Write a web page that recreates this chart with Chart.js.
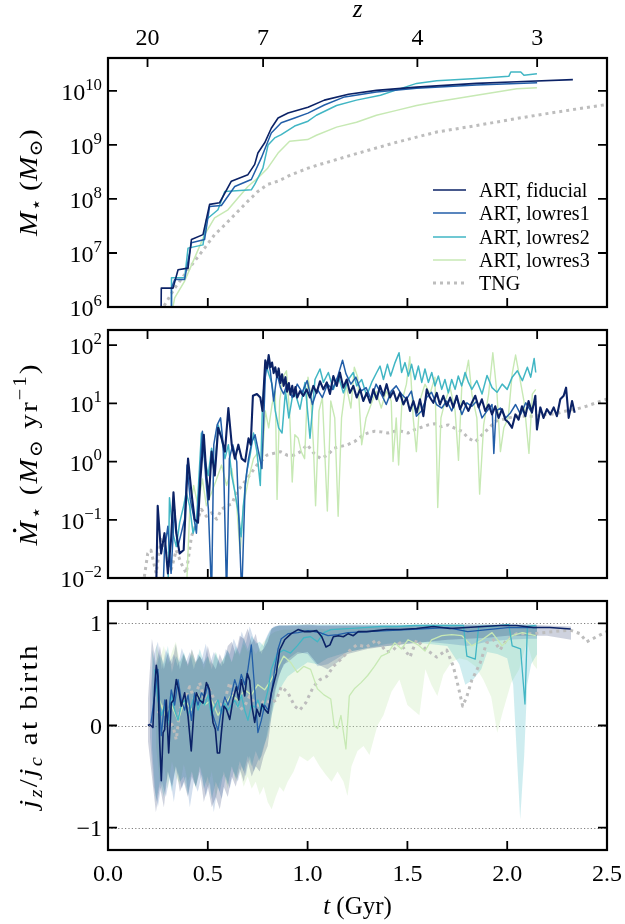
<!DOCTYPE html>
<html>
<head>
<meta charset="utf-8">
<title>Stellar mass, SFR and jz/jc at birth</title>
<script src="https://cdn.jsdelivr.net/npm/chart.js@4.4.1/dist/chart.umd.min.js"></script>
<style>
  html, body { margin: 0; padding: 0; background: #fff; }
  #figure { position: relative; width: 625px; height: 924px; }
  #figure canvas { position: absolute; left: 0; top: 0; }
</style>
</head>
<body>
<div id="figure">
  <canvas id="massChart" width="625" height="924"></canvas>
  <canvas id="sfrChart" width="625" height="924"></canvas>
  <canvas id="jzChart" width="625" height="924"></canvas>
</div>
<script>
const FONT = '"Liberation Serif", "DejaVu Serif", serif';

// shared time axis (Gyr) and redshift ticks on top
const xTickValues = [0, 0.5, 1, 1.5, 2, 2.5];
const xTickLabels = ["0.0", "0.5", "1.0", "1.5", "2.0", "2.5"];
const zTickLabels = ["20", "7", "4", "3"];
const zTickTimes = [0.198, 0.777, 1.55, 2.15];

const massExponents = [6, 7, 8, 9, 10];
const sfrExponents = [-2, -1, 0, 1, 2];
const jzTickValues = [-1, 0, 1];
const jzTickLabels = ["\u22121", "0", "1"];

const seriesNames = ["ART, fiducial", "ART, lowres1", "ART, lowres2", "ART, lowres3", "TNG"];
const seriesColors = ["#0b2266", "#225ea8", "#41b6c4", "#c7e9b4", "#bdbdbd"];
const bandColors = ["rgba(8,29,88,0.2)", "rgba(34,94,168,0.2)", "rgba(65,182,196,0.25)", "rgba(199,233,180,0.32)"];

// ---- panel 1: stellar mass, log10(M / Msun)
const tMassFid = [0.265,0.267,0.326,0.351,0.401,0.418,0.476,0.509,0.559,0.618,0.701,0.735,0.751,0.785,0.818,0.852,0.902,1.002,1.084,1.205,1.345,1.546,1.847,2.048,2.329];
const logMassFid = [5.5,6.35,6.35,6.69,6.72,7.25,7.34,7.90,7.93,8.33,8.45,8.64,8.85,9.04,9.31,9.50,9.59,9.70,9.83,9.94,10.01,10.07,10.14,10.17,10.21];
const tMassLr1 = [0.316,0.318,0.334,0.384,0.418,0.484,0.509,0.568,0.635,0.718,0.768,0.818,0.868,0.935,1.002,1.084,1.185,1.345,1.546,1.847,2.048,2.15];
const logMassLr1 = [5.5,6.35,6.51,6.51,7.19,7.25,7.86,7.88,8.23,8.36,8.76,9.22,9.41,9.50,9.59,9.74,9.89,9.98,10.05,10.11,10.14,10.15];
const tMassLr2 = [0.316,0.318,0.384,0.401,0.476,0.493,0.551,0.585,0.718,0.735,0.776,0.802,0.835,0.868,0.935,1.002,1.044,1.145,1.245,1.365,1.446,1.546,1.647,1.847,2.008,2.018,2.068,2.084,2.149];
const logMassLr2 = [5.5,6.54,6.54,7.09,7.15,7.62,7.80,8.14,8.17,8.27,8.57,9.00,9.13,9.19,9.35,9.44,9.55,9.73,9.83,9.92,10.02,10.14,10.19,10.23,10.27,10.35,10.35,10.29,10.32];
const tMassLr3 = [0.320,0.334,0.384,0.434,0.484,0.534,0.601,0.651,0.701,0.751,0.800,0.852,0.910,1.000,1.044,1.145,1.245,1.345,1.446,1.546,1.647,1.747,1.847,1.948,2.048,2.149];
const logMassLr3 = [5.9,6.17,6.48,6.91,7.34,7.65,7.80,8.02,8.23,8.39,8.57,8.85,9.07,9.10,9.18,9.33,9.42,9.55,9.64,9.73,9.80,9.86,9.92,9.98,10.04,10.06];
const tMassTng = [0.270,0.284,0.334,0.384,0.434,0.484,0.534,0.585,0.635,0.701,0.751,0.800,0.852,0.918,1.002,1.044,1.245,1.446,1.647,1.847,2.048,2.249,2.500];
const logMassTng = [5.9,6.04,6.35,6.60,6.85,7.09,7.34,7.52,7.71,7.96,8.14,8.27,8.33,8.45,8.57,8.62,8.84,9.05,9.24,9.36,9.49,9.61,9.75];

// ---- panel 2: star formation rate, log10(SFR / Msun yr^-1)
const tSfrFid = [0.241,0.249,0.266,0.283,0.300,0.316,0.328,0.342,0.359,0.379,0.401,0.418,0.434,0.451,0.463,0.480,0.493,0.505,0.519,0.535,0.552,0.569,0.586,0.603,0.620,0.636,0.653,0.670,0.687,0.704,0.715,0.726,0.746,0.763,0.774,
  0.788,0.797,0.805,0.814,0.822,0.830,0.838,0.847,0.855,0.864,0.872,0.880,0.889,0.897,0.906,0.914,0.923,0.931,0.939,0.948,0.962,0.979,0.995,1.012,1.029,1.045,1.062,1.079,1.096,1.112,1.129,1.146,1.162,1.179,1.196,1.212,1.229,1.246,1.263,1.279,1.296,1.313,1.329,1.346,1.363,1.380,1.396,1.413,1.430,1.446,1.463,1.480,1.496,1.513,1.530,1.547,1.563,1.580,1.597,1.613,1.630,1.647,1.663,1.680,1.697,1.714,1.730,1.747,1.764,1.781,1.806,1.823,1.840,1.857,1.873,1.890,1.907,1.924,1.940,1.957,1.974,1.991,2.007,2.024,2.041,2.057,2.074,2.091,2.107,2.124,2.141,2.149,2.166,2.182,2.199,2.216,2.233,2.249,2.266,2.283,2.295,2.308,2.325,2.338];
const logSfrFid = [-2.3,-0.76,-1.58,-1.23,-1.92,-1.34,-0.53,-1.23,-1.58,-1.52,0.05,-0.53,-0.99,-1.05,-0.30,0.46,-0.24,-0.65,0.17,-0.24,0.58,0.40,0.17,0.92,0.29,0.05,0.29,0.05,0.0,0.40,0.29,1.13,1.16,1.10,0.87,
  1.74,1.60,1.83,1.62,1.70,1.52,1.62,1.45,1.60,1.35,1.50,1.30,1.45,1.20,1.35,1.15,1.30,1.12,1.28,1.10,1.21,1.13,1.24,1.10,1.30,1.18,1.38,1.24,1.36,1.16,1.47,1.30,1.53,1.27,1.41,1.18,1.30,1.10,1.24,1.04,1.18,1.01,1.24,1.07,1.30,1.13,1.33,1.10,1.21,1.04,1.18,0.98,1.10,0.87,1.04,0.84,1.07,0.78,1.24,1.10,1.01,1.18,0.98,1.13,0.95,1.10,0.93,1.13,0.90,1.04,0.87,1.01,1.13,0.93,1.07,0.87,0.98,0.81,0.95,0.75,0.90,0.72,0.67,0.58,0.81,0.72,0.95,0.78,1.04,0.84,1.13,0.55,0.93,0.75,0.90,0.81,0.93,0.78,1.07,1.13,1.27,0.75,1.04,0.84];
const tSfrLr1 = [0.275,0.283,0.300,0.316,0.333,0.350,0.367,0.384,0.396,0.412,0.429,0.443,0.460,0.473,0.490,0.503,0.519,0.530,0.547,0.564,0.577,0.594,0.608,0.625,0.645,0.670,0.687,0.704,0.721,0.737,0.754,0.771,0.788,0.800,0.813,0.830,0.847,0.864,0.880,0.897,0.923,0.948,0.973,0.998,1.024,1.049,1.074,1.099,1.125,1.150,1.175,1.192,1.217,1.242,1.268,1.293,1.318,1.343,1.369,1.394,1.419,1.444,1.470,1.495,1.520,1.545,1.571,1.596,1.621,1.646,1.672,1.697,1.722,1.747,1.773,1.798,1.823,1.848,1.874,1.899,1.924,1.933,1.944,1.966,1.992,2.017,2.042,2.067,2.093,2.118,2.143];
const logSfrLr1 = [-2.3,-1.52,-1.11,-1.92,-0.82,-1.46,-1.23,-0.99,-0.06,-0.65,-0.94,-1.23,-0.24,0.52,-0.30,-0.82,-2.3,0.29,0.63,0.75,0.29,-2.3,0.05,0.29,0.0,-2.3,-0.41,0.05,0.34,0.46,0.17,-0.12,1.45,1.74,1.56,1.04,1.51,1.27,1.16,1.33,1.10,1.33,1.19,1.39,0.98,1.24,1.10,1.33,1.24,1.45,1.74,1.51,1.33,1.45,1.21,1.27,1.07,1.33,1.16,0.98,1.21,1.30,1.16,1.07,1.21,0.78,0.87,1.10,1.19,0.98,0.92,1.04,0.87,1.10,0.81,1.01,0.95,1.04,0.75,0.87,0.98,0.14,0.87,0.92,0.75,0.84,0.98,0.81,1.01,0.87,1.04];
const tSfrLr2 = [0.300,0.308,0.325,0.342,0.359,0.379,0.392,0.409,0.426,0.443,0.468,0.485,0.502,0.519,0.535,0.552,0.569,0.586,0.603,0.620,0.636,0.653,0.667,0.678,0.695,0.712,0.729,0.746,0.763,0.774,0.790,0.805,0.822,0.838,0.855,0.872,0.889,0.906,0.923,0.939,
  0.962,0.987,1.012,1.037,1.062,1.079,1.104,1.129,1.154,1.179,1.204,1.229,1.246,1.271,1.296,1.321,1.346,1.363,1.380,1.400,1.416,1.438,1.458,1.471,1.488,1.505,1.521,1.538,1.555,1.572,1.588,1.605,1.622,1.638,1.655,1.672,1.688,1.705,1.722,1.739,1.755,1.772,1.789,1.806,
  1.823,1.848,1.874,1.899,1.924,1.949,1.975,2.000,2.025,2.051,2.076,2.101,2.118,2.135,2.143];
const logSfrLr2 = [-2.3,-0.62,-1.23,-1.46,-1.05,-0.76,-0.53,-0.76,-1.23,-1.05,0.49,0.05,-0.24,0.23,-0.12,0.63,0.40,0.05,0.29,-0.24,-0.53,-0.88,-1.29,-0.76,-0.18,0.11,0.49,0.17,-0.41,0.98,1.68,1.51,1.33,0.87,0.58,0.49,1.21,0.75,1.10,1.16,
  0.90,1.36,0.40,1.41,1.59,1.36,1.53,1.24,1.47,1.18,1.41,1.53,1.30,1.41,1.13,1.36,1.53,1.64,1.41,1.67,1.47,1.70,1.87,1.53,1.70,1.47,1.67,1.41,1.64,1.36,1.59,1.36,1.53,1.30,1.47,1.24,1.41,1.18,1.41,1.24,1.47,1.30,1.53,1.36,
  1.24,1.39,1.16,1.48,1.27,1.19,1.33,1.24,1.45,1.56,1.39,1.62,1.45,1.77,1.53];
const tSfrLr3 = [0.392,0.409,0.429,0.451,0.473,0.493,0.519,0.544,0.569,0.594,0.620,0.645,0.662,0.678,0.704,0.729,0.754,0.771,0.788,0.805,0.822,0.838,0.847,0.860,0.877,0.894,0.911,0.923,0.936,0.953,0.968,0.985,1.002,1.015,1.029,1.040,1.057,1.074,1.099,1.116,1.136,1.153,1.170,1.192,1.217,1.234,1.251,1.271,1.293,1.318,1.343,1.369,1.394,1.419,1.428,1.444,1.456,1.473,1.495,1.512,1.529,1.545,1.562,1.588,1.613,1.638,1.652,1.668,1.689,1.714,1.739,1.756,1.773,1.790,1.806,1.823,1.848,1.862,1.882,1.907,1.928,1.949,1.966,1.983,2.005,2.025,2.042,2.059,2.084,2.109,2.126,2.143];
const logSfrLr3 = [-2.3,-0.88,-0.41,-0.76,-0.30,-0.76,-0.53,-0.30,-0.06,-0.41,-0.12,-0.76,-1.58,-0.76,-0.30,0.05,0.17,-0.12,0.87,0.58,0.98,1.21,-0.65,1.04,1.45,1.56,0.75,-0.35,0.46,0.40,0.17,0.05,1.45,1.16,0.29,-0.76,0.87,1.10,-0.85,1.04,0.75,-0.94,0.75,1.33,0.92,1.62,1.45,0.29,0.75,0.98,1.21,0.92,1.21,1.04,0.0,0.75,-0.06,1.04,1.33,1.80,0.75,0.17,1.04,1.33,1.16,1.45,-0.79,0.75,1.04,1.27,0.87,0.02,1.33,1.45,1.74,1.16,0.75,-0.56,0.63,1.16,1.87,1.16,0.17,0.58,0.75,1.51,1.83,1.51,1.04,0.14,1.16,1.24];
const tSfrTng = [0.182,0.199,0.215,0.241,0.266,0.291,0.316,0.342,0.367,0.392,0.418,0.443,0.468,0.493,0.519,0.544,0.569,0.594,0.620,0.645,0.670,0.695,0.721,0.746,0.771,0.796,0.830,0.864,0.897,0.931,0.965,0.998,1.032,1.066,1.099,1.133,1.167,1.200,1.234,1.268,1.301,1.335,1.369,1.402,1.436,1.470,1.503,1.537,1.571,1.604,1.638,1.672,1.705,1.739,1.773,1.806,1.840,1.874,1.907,1.941,1.975,2.008,2.042,2.093,2.143,2.194,2.244,2.295,2.345,2.396,2.446,2.497];
const logSfrTng = [-1.98,-1.58,-1.52,-1.92,-1.34,-1.58,-1.87,-1.52,-1.75,-1.92,-1.29,-1.05,-0.82,-0.94,-0.88,-0.99,-0.82,-0.76,-0.73,-0.53,-0.41,-0.30,-0.18,-0.06,0.02,0.11,0.14,0.17,0.11,0.11,0.17,0.29,0.14,0.05,0.11,0.23,0.26,0.29,0.34,0.43,0.49,0.52,0.51,0.49,0.52,0.52,0.49,0.55,0.59,0.63,0.65,0.60,0.63,0.57,0.52,0.40,0.34,0.46,0.57,0.69,0.72,0.75,0.78,0.78,0.78,0.81,0.82,0.87,0.90,0.95,1.01,1.07];

// ---- panel 3: jz/jc at birth, medians
const tJzFid = [0.200,0.209,0.225,0.234,0.242,0.250,0.259,0.267,0.276,0.284,0.292,0.304,0.317,0.329,0.342,0.354,0.367,0.384,0.401,0.417,0.431,0.443,0.459,0.476,0.493,0.509,0.526,0.538,0.548,0.559,0.568,0.581,0.593,0.610,0.626,0.643,0.655,0.668,0.685,0.698,0.710,0.721,0.735,0.746,0.760,0.772,0.785,0.802,0.818,0.843,0.860,0.885,0.918,0.952,0.985,1.012,1.045,1.071,1.092,1.112,1.129,1.154,1.179,1.204,1.229,1.254,1.296,1.346,1.396,1.463,1.546,1.630,1.713,1.797,1.880,1.964,2.047,2.131,2.214,2.318];
const jzFid = [0.0,0.01,-0.02,0.38,0.59,0.48,-0.17,-0.54,-0.07,-0.04,0.25,-0.27,0.22,0.25,0.45,0.35,0.19,0.32,0.09,-0.25,0.16,0.32,0.25,0.22,0.42,0.35,0.03,-0.04,-0.27,-0.27,-0.07,0.19,0.16,0.06,0.25,0.38,0.25,0.45,0.29,0.51,0.44,0.19,0.03,0.16,0.09,0.21,0.16,0.12,0.32,0.51,0.74,0.84,0.90,0.94,0.92,0.92,0.93,0.87,0.77,0.79,0.87,0.88,0.87,0.90,0.88,0.92,0.92,0.93,0.94,0.94,0.95,0.97,0.95,0.96,0.97,0.98,0.98,0.96,0.96,0.945];
const tJzLr1 = [0.215,0.234,0.250,0.267,0.284,0.300,0.317,0.334,0.351,0.367,0.384,0.401,0.418,0.434,0.451,0.468,0.484,0.501,0.518,0.534,0.551,0.568,0.585,0.601,0.618,0.635,0.651,0.668,0.685,0.701,0.718,0.735,0.751,0.768,0.785,0.802,0.818,0.835,0.852,0.868,0.902,0.952,1.002,1.062,1.102,1.152,1.202,1.302,1.402,1.502,1.602,1.702,1.802,1.902,2.002,2.102,2.150];
const jzLr1 = [0.02,0.30,0.55,-0.10,0.25,0.05,0.35,0.20,0.45,0.25,0.15,0.30,0.05,0.32,0.20,0.32,0.28,0.40,0.15,0.05,-0.05,0.15,0.28,0.20,0.30,0.45,0.35,0.50,0.40,0.55,0.79,0.35,-0.07,0.05,0.20,0.15,0.30,0.55,0.75,0.85,0.90,0.91,0.93,0.91,0.88,0.89,0.91,0.92,0.93,0.94,0.95,0.96,0.92,0.94,0.96,0.96,0.96];
const tJzLr2 = [0.234,0.250,0.267,0.284,0.300,0.317,0.334,0.351,0.367,0.384,0.401,0.418,0.434,0.451,0.468,0.484,0.501,0.518,0.534,0.551,0.568,0.585,0.601,0.618,0.635,0.651,0.668,0.685,0.701,0.718,0.735,0.751,0.768,0.785,0.802,0.818,0.847,0.880,0.914,0.948,0.981,1.015,1.049,1.082,1.116,1.200,1.285,1.369,1.453,1.537,1.621,1.705,1.781,1.798,1.840,1.857,1.924,2.008,2.025,2.067,2.089,2.101,2.143];
const jzLr2 = [0.55,0.25,0.10,0.20,0.00,0.30,0.15,0.05,0.20,0.25,0.10,0.20,0.30,0.15,0.25,0.20,0.30,0.10,0.18,0.25,0.12,0.22,0.15,0.20,0.25,0.18,0.30,0.15,0.05,0.20,0.18,0.25,0.15,0.22,0.35,0.55,0.70,0.74,0.71,0.78,0.86,0.87,0.82,0.91,0.94,0.95,0.96,0.97,0.97,0.98,0.98,0.98,0.98,0.68,0.65,0.97,0.97,0.99,0.78,0.75,0.21,0.97,0.98];
const tJzLr3 = [0.250,0.284,0.317,0.351,0.384,0.418,0.451,0.484,0.518,0.551,0.585,0.618,0.651,0.685,0.718,0.751,0.785,0.818,0.847,0.880,0.914,0.948,0.981,1.015,1.049,1.082,1.116,1.133,1.150,1.167,1.192,1.209,1.234,1.268,1.301,1.335,1.369,1.402,1.436,1.470,1.503,1.554,1.588,1.621,1.672,1.722,1.773,1.823,1.874,1.924,1.975,2.025,2.076,2.143];
const jzLr3 = [0.30,0.10,0.20,0.05,0.25,0.15,0.30,0.20,0.25,0.10,0.20,0.30,0.25,0.35,0.30,0.40,0.35,0.45,0.55,0.68,0.62,0.52,0.58,0.55,0.36,0.30,0.26,0.00,-0.03,0.10,-0.23,0.29,0.36,0.42,0.49,0.58,0.68,0.71,0.81,0.75,0.84,0.79,0.73,0.84,0.88,0.89,0.88,0.78,0.84,0.91,0.78,0.88,0.91,0.88];
const tJzTng = [0.250,0.276,0.301,0.326,0.342,0.359,0.384,0.409,0.434,0.459,0.484,0.509,0.534,0.559,0.585,0.610,0.635,0.660,0.685,0.710,0.735,0.760,0.785,0.818,0.843,0.868,0.902,0.935,0.960,0.990,1.029,1.062,1.096,1.129,1.162,1.196,1.246,1.296,1.346,1.396,1.429,1.463,1.513,1.546,1.596,1.647,1.697,1.730,1.755,1.777,1.797,1.822,1.864,1.897,1.931,1.964,1.997,2.047,2.130,2.231,2.315,2.365,2.398,2.448,2.498];
const jzTng = [0.12,0.19,0.06,-0.01,-0.14,0.15,0.25,0.38,0.25,0.42,0.25,0.35,0.25,0.19,0.25,0.42,0.25,0.15,0.19,0.29,0.22,0.19,0.25,0.22,0.25,0.38,0.32,0.19,0.15,0.22,0.38,0.45,0.48,0.58,0.64,0.71,0.79,0.77,0.84,0.72,0.74,0.81,0.67,0.84,0.74,0.67,0.74,0.58,0.38,0.19,0.28,0.44,0.61,0.81,0.84,0.74,0.84,0.90,0.90,0.92,0.935,0.90,0.82,0.87,0.92];

// ---- panel 3: scatter bands (lower / upper)
const tBandFid = [0.20,0.22,0.24,0.26,0.28,0.30,0.32,0.34,0.36,0.38,0.40,0.42,0.44,0.46,0.48,0.50,0.52,0.54,0.56,0.58,0.60,0.62,0.64,0.66,0.68,0.70,0.72,0.74,0.76,0.78,0.80,0.82,0.84,0.86,0.88,0.90,0.95,1.00,1.05,1.10,1.15,1.20,1.30,1.40,1.50,1.60,1.70,1.80,1.90,2.00,2.10,2.20,2.32];
const hiBandFid = [0.25,0.85,0.60,0.78,0.55,0.72,0.60,0.80,0.55,0.70,0.60,0.75,0.62,0.68,0.60,0.78,0.62,0.55,0.70,0.60,0.78,0.82,0.70,0.88,0.85,0.95,0.80,0.90,0.72,0.75,0.82,0.95,0.97,0.98,0.98,0.98,0.98,0.99,0.98,0.98,0.98,0.98,0.98,0.98,0.98,0.99,0.99,0.99,0.99,0.99,0.99,0.98,0.97];
const loBandFid = [-0.15,-0.50,-0.85,-0.60,-0.80,-0.45,-0.60,-0.40,-0.65,-0.55,-0.70,-0.50,-0.60,-0.45,-0.75,-0.60,-0.80,-0.70,-0.82,-0.60,-0.70,-0.50,-0.60,-0.42,-0.55,-0.35,-0.50,-0.40,-0.45,-0.30,-0.20,0.10,0.35,0.50,0.60,0.62,0.70,0.72,0.60,0.55,0.62,0.70,0.75,0.78,0.80,0.82,0.84,0.85,0.86,0.88,0.88,0.88,0.84];
const tBandLr1 = [0.21,0.23,0.25,0.27,0.29,0.31,0.33,0.35,0.37,0.39,0.41,0.43,0.45,0.47,0.49,0.51,0.53,0.55,0.57,0.59,0.61,0.63,0.65,0.67,0.69,0.71,0.73,0.75,0.77,0.79,0.81,0.83,0.85,0.87,0.90,0.95,1.00,1.05,1.10,1.20,1.30,1.40,1.50,1.60,1.70,1.80,1.90,2.00,2.10,2.15];
const hiBandLr1 = [0.30,0.70,0.82,0.55,0.75,0.62,0.70,0.58,0.76,0.62,0.72,0.55,0.70,0.65,0.80,0.60,0.72,0.65,0.58,0.75,0.70,0.85,0.75,0.92,0.80,0.97,0.85,0.80,0.70,0.85,0.93,0.97,0.98,0.98,0.98,0.98,0.98,0.98,0.98,0.98,0.98,0.98,0.98,0.98,0.98,0.98,0.98,0.98,0.98,0.98];
const loBandLr1 = [-0.10,-0.60,-0.80,-0.55,-0.70,-0.50,-0.75,-0.45,-0.62,-0.50,-0.80,-0.55,-0.65,-0.48,-0.70,-0.55,-0.85,-0.60,-0.72,-0.50,-0.62,-0.45,-0.55,-0.40,-0.50,-0.30,-0.45,-0.35,-0.30,-0.15,0.05,0.30,0.45,0.55,0.65,0.72,0.70,0.58,0.60,0.72,0.76,0.78,0.80,0.82,0.80,0.78,0.82,0.84,0.85,0.85];
const tBandLr2 = [0.22,0.24,0.26,0.28,0.30,0.32,0.34,0.36,0.38,0.40,0.42,0.44,0.46,0.48,0.50,0.52,0.54,0.56,0.58,0.60,0.62,0.64,0.66,0.68,0.70,0.72,0.74,0.76,0.78,0.80,0.82,0.84,0.86,0.88,0.90,0.95,1.00,1.05,1.10,1.20,1.30,1.40,1.50,1.60,1.70,1.76,1.79,1.83,1.87,1.90,1.95,2.00,2.03,2.065,2.085,2.10,2.12,2.15];
const hiBandLr2 = [0.75,0.55,0.70,0.60,0.78,0.52,0.68,0.62,0.72,0.58,0.70,0.60,0.75,0.62,0.68,0.55,0.72,0.60,0.66,0.74,0.62,0.78,0.70,0.85,0.75,0.88,0.80,0.82,0.78,0.88,0.95,0.97,0.98,0.98,0.98,0.99,0.99,0.99,0.99,0.99,0.99,0.99,0.99,0.99,0.99,0.99,0.99,0.99,0.99,0.99,0.99,0.99,0.99,0.99,0.99,0.99,0.99,0.99];
const loBandLr2 = [-0.20,-0.75,-0.55,-0.70,-0.45,-0.65,-0.40,-0.55,-0.50,-0.68,-0.45,-0.60,-0.40,-0.62,-0.50,-0.72,-0.55,-0.65,-0.45,-0.58,-0.40,-0.52,-0.35,-0.45,-0.30,-0.40,-0.25,-0.35,-0.20,-0.10,0.10,0.25,0.35,0.42,0.48,0.55,0.62,0.60,0.66,0.72,0.76,0.80,0.82,0.80,0.78,0.60,0.40,0.45,0.55,0.72,0.70,0.66,0.40,-0.92,-0.30,0.40,0.60,0.70];
const tBandLr3 = [0.24,0.26,0.28,0.30,0.32,0.34,0.36,0.38,0.40,0.42,0.44,0.46,0.48,0.50,0.52,0.54,0.56,0.58,0.60,0.62,0.64,0.66,0.68,0.70,0.72,0.74,0.76,0.78,0.80,0.82,0.84,0.86,0.88,0.90,0.93,0.96,1.00,1.03,1.06,1.09,1.12,1.15,1.18,1.20,1.22,1.25,1.28,1.31,1.35,1.38,1.42,1.46,1.50,1.53,1.56,1.59,1.62,1.65,1.68,1.72,1.76,1.80,1.84,1.88,1.92,1.95,1.98,2.02,2.06,2.10,2.13,2.15];
const hiBandLr3 = [0.80,0.65,0.78,0.60,0.72,0.82,0.62,0.70,0.58,0.74,0.62,0.70,0.55,0.68,0.60,0.72,0.58,0.66,0.70,0.62,0.75,0.68,0.80,0.72,0.78,0.70,0.76,0.82,0.86,0.90,0.92,0.93,0.94,0.94,0.94,0.95,0.95,0.94,0.95,0.94,0.95,0.95,0.96,0.96,0.95,0.96,0.96,0.96,0.96,0.96,0.97,0.96,0.97,0.97,0.97,0.97,0.97,0.97,0.97,0.97,0.97,0.97,0.97,0.97,0.97,0.97,0.97,0.97,0.97,0.97,0.97,0.97];
const loBandLr3 = [-0.20,-0.55,-0.40,-0.62,-0.35,-0.50,-0.58,-0.38,-0.55,-0.45,-0.62,-0.40,-0.52,-0.60,-0.45,-0.70,-0.55,-0.48,-0.62,-0.40,-0.55,-0.45,-0.60,-0.50,-0.62,-0.55,-0.68,-0.60,-0.75,-0.82,-0.70,-0.60,-0.65,-0.55,-0.45,-0.30,-0.35,-0.30,-0.40,-0.48,-0.55,-0.45,-0.55,-0.69,-0.40,-0.25,-0.20,-0.29,0.00,0.10,0.33,0.45,0.20,0.15,0.10,0.55,0.40,0.29,0.50,0.62,0.66,0.64,0.58,0.45,0.28,-0.07,0.15,0.42,0.55,0.82,0.60,0.55];

const massTitle = [["M", "i"], ["\u22c6", "sub"], [" ("], ["M", "i"], ["\u2299", "sub"], [")"]];
const sfrTitle = [["M", "idot"], ["\u22c6", "sub"], [" ("], ["M", "i"], ["\u2299", "sub"], [" yr"], ["\u22121", "sup"], [")"]];
const jzTitle = [["j", "i"], ["z", "isub"], ["/"], ["j", "i"], ["c", "isub"], [" at birth"]];

function setFont(ctx, size, italic) {
  ctx.font = `${italic ? "italic " : ""}${size}px ${FONT}`;
}

// mixed-style text: parts are [text, style] with style flags i / sub / sup / dot.
// With a target length, glyphs are spread (and only slightly widened) to fill it.
function drawRich(ctx, parts, x, y, size, align, length) {
  let natural = 0;
  let count = 0;
  const items = parts.map(([text, style = ""]) => {
    const small = style.includes("sub") || style.includes("sup");
    const s = small ? size * 0.7 : size;
    const italic = style.includes("i");
    const dy = style.includes("sub") ? size * 0.2 : style.includes("sup") ? -size * 0.42 : 0;
    setFont(ctx, s, italic);
    const chars = [...text].map((ch) => ({ ch, w: ctx.measureText(ch).width }));
    const w = ctx.measureText(text).width;
    natural += w;
    count += chars.length;
    return { text, s, italic, dy, w, chars, dot: style.includes("dot") };
  });
  let stretch = 1;
  let gap = 0;
  if (length) {
    stretch = Math.min(1.12, length / natural);
    gap = (length / stretch - natural) / count;
  }
  const width = natural + gap * count;
  const x0 = align === "center" ? -width / 2 : align === "right" ? -width : 0;
  ctx.save();
  ctx.translate(x, y);
  ctx.scale(stretch, 1);
  ctx.fillStyle = "#000";
  ctx.textAlign = "left";
  ctx.textBaseline = "alphabetic";
  let cx = x0;
  items.forEach((it) => {
    setFont(ctx, it.s, it.italic);
    const start = cx;
    if (gap === 0) {
      ctx.fillText(it.text, cx, it.dy);
      cx += it.w;
    } else {
      it.chars.forEach((c) => {
        ctx.fillText(c.ch, cx, it.dy);
        cx += c.w + gap;
      });
    }
    if (it.dot) {
      ctx.beginPath();
      ctx.arc(start + it.w * 0.62, -it.s * 0.86, it.s * 0.065, 0, Math.PI * 2);
      ctx.fill();
    }
  });
  ctx.restore();
}

function powerLabel(e) {
  return [["10"], [e < 0 ? "\u2212" + Math.abs(e) : String(e), "sup"]];
}

function drawLegend(ctx) {
  const rows = [190, 213, 237, 260, 283];
  seriesNames.forEach((name, k) => {
    ctx.save();
    ctx.strokeStyle = seriesColors[k];
    ctx.lineWidth = k === 4 ? 3 : 1.7;
    ctx.setLineDash(k === 4 ? [3, 4] : []);
    ctx.beginPath();
    ctx.moveTo(433, rows[k]);
    ctx.lineTo(466, rows[k]);
    ctx.stroke();
    ctx.restore();
    drawRich(ctx, [[name]], 479, rows[k] + 6.5, 20, "left");
  });
}

function panelFrame(cfg) {
  return {
    id: "panelFrame",
    beforeDatasetsDraw(chart) {
      if (!cfg.grid) return;
      const { ctx, chartArea: a, scales: { y } } = chart;
      ctx.save();
      ctx.strokeStyle = "#7f7f7f";
      ctx.lineWidth = 1;
      ctx.setLineDash([1.2, 2.2]);
      ctx.beginPath();
      cfg.grid.forEach((v) => {
        const py = Math.round(y.getPixelForValue(v)) + 0.5;
        ctx.moveTo(a.left, py);
        ctx.lineTo(a.right, py);
      });
      ctx.stroke();
      ctx.restore();
    },
    afterDraw(chart) {
      const { ctx, chartArea: a, scales: { x, y } } = chart;
      const inside = (p, lo, hi) => p > lo + 1 && p < hi - 1;
      ctx.save();
      ctx.strokeStyle = "#000";
      ctx.lineWidth = 1.8;
      ctx.beginPath();
      xTickValues.forEach((t) => {
        const px = x.getPixelForValue(t);
        if (!inside(px, a.left, a.right)) return;
        ctx.moveTo(px, a.bottom);
        ctx.lineTo(px, a.bottom - 9);
      });
      zTickTimes.forEach((t) => {
        const px = x.getPixelForValue(t);
        ctx.moveTo(px, a.top);
        ctx.lineTo(px, a.top + 9);
      });
      cfg.yTicks.forEach((v) => {
        const py = y.getPixelForValue(v);
        if (!inside(py, a.top, a.bottom)) return;
        ctx.moveTo(a.left, py);
        ctx.lineTo(a.left + 9, py);
        ctx.moveTo(a.right, py);
        ctx.lineTo(a.right - 9, py);
      });
      ctx.stroke();
      ctx.lineWidth = 2.2;
      ctx.strokeRect(a.left, a.top, a.right - a.left, a.bottom - a.top);
      ctx.restore();

      cfg.yTicks.forEach((v, i) => {
        drawRich(ctx, cfg.yLabels[i], 102, y.getPixelForValue(v) + cfg.labelShift, 24, "right");
      });

      ctx.save();
      ctx.translate(37, (a.top + a.bottom) / 2);
      ctx.rotate(-Math.PI / 2);
      drawRich(ctx, cfg.title, 0, 0, 26, "center", cfg.titleLength);
      ctx.restore();

      if (cfg.topAxis) {
        zTickTimes.forEach((t, i) => drawRich(ctx, [[zTickLabels[i]]], x.getPixelForValue(t), 45, 24, "center"));
        drawRich(ctx, [["z", "i"]], (a.left + a.right) / 2, 17, 25, "center");
      }
      if (cfg.bottomAxis) {
        xTickValues.forEach((t, i) => drawRich(ctx, [[xTickLabels[i]]], x.getPixelForValue(t), 881, 24, "center"));
        drawRich(ctx, [["t", "i"], [" (Gyr)"]], (a.left + a.right) / 2, 914, 25, "center");
      }
      if (cfg.legend) drawLegend(ctx);
    },
  };
}

function logPoints(ts, logs) {
  return ts.map((t, i) => ({ x: t, y: Math.pow(10, logs[i]) }));
}

function linPoints(ts, vs) {
  return ts.map((t, i) => ({ x: t, y: vs[i] }));
}

function lineSet(points, k, width) {
  const tng = k === 4;
  return {
    data: points,
    borderColor: seriesColors[k],
    borderWidth: tng ? 3 : width,
    borderDash: tng ? [3, 4] : [],
    borderCapStyle: "butt",
    borderJoinStyle: "round",
    pointRadius: 0,
    fill: false,
  };
}

function bandSets(ts, lo, hi, k) {
  return [
    { data: linPoints(ts, hi), borderColor: "rgba(0,0,0,0)", borderWidth: 1, pointRadius: 0, fill: false },
    { data: linPoints(ts, lo), borderColor: "rgba(0,0,0,0)", borderWidth: 1, pointRadius: 0, fill: "-1", backgroundColor: bandColors[k] },
  ];
}

function makePanel(id, top, bottom, yScale, datasets, cfg) {
  return new Chart(document.getElementById(id), {
    type: "line",
    data: { datasets },
    options: {
      responsive: false,
      animation: false,
      devicePixelRatio: 1,
      events: [],
      layout: { padding: { left: 108, right: 18, top, bottom: 924 - bottom } },
      plugins: { legend: { display: false }, tooltip: { enabled: false } },
      elements: { line: { tension: 0 } },
      scales: {
        x: { type: "linear", min: 0, max: 2.5, display: false },
        y: Object.assign({ display: false }, yScale),
      },
    },
    plugins: [panelFrame(cfg)],
  });
}

makePanel("massChart", 58, 307,
  { type: "logarithmic", min: 1e6, max: Math.pow(10, 10.61) },
  [
    lineSet(logPoints(tMassFid, logMassFid), 0, 1.6),
    lineSet(logPoints(tMassLr1, logMassLr1), 1, 1.5),
    lineSet(logPoints(tMassLr2, logMassLr2), 2, 1.5),
    lineSet(logPoints(tMassLr3, logMassLr3), 3, 1.5),
    lineSet(logPoints(tMassTng, logMassTng), 4),
  ],
  {
    yTicks: massExponents.map((e) => Math.pow(10, e)),
    yLabels: massExponents.map(powerLabel),
    labelShift: 9,
    title: massTitle,
    titleLength: 107,
    topAxis: true,
    legend: true,
  });

makePanel("sfrChart", 330, 578,
  { type: "logarithmic", min: 1e-2, max: Math.pow(10, 2.26) },
  [
    lineSet(logPoints(tSfrFid, logSfrFid), 0, 2.1),
    lineSet(logPoints(tSfrLr1, logSfrLr1), 1, 1.5),
    lineSet(logPoints(tSfrLr2, logSfrLr2), 2, 1.5),
    lineSet(logPoints(tSfrLr3, logSfrLr3), 3, 1.4),
    lineSet(logPoints(tSfrTng, logSfrTng), 4),
  ],
  {
    yTicks: sfrExponents.map((e) => Math.pow(10, e)),
    yLabels: sfrExponents.map(powerLabel),
    labelShift: 9,
    title: sfrTitle,
    titleLength: 183,
  });

makePanel("jzChart", 601, 850,
  { type: "linear", min: -1.22, max: 1.22 },
  [
    lineSet(linPoints(tJzFid, jzFid), 0, 1.6),
    lineSet(linPoints(tJzLr1, jzLr1), 1, 1.3),
    lineSet(linPoints(tJzLr2, jzLr2), 2, 1.3),
    lineSet(linPoints(tJzLr3, jzLr3), 3, 1.3),
    lineSet(linPoints(tJzTng, jzTng), 4),
    ...bandSets(tBandFid, loBandFid, hiBandFid, 0),
    ...bandSets(tBandLr1, loBandLr1, hiBandLr1, 1),
    ...bandSets(tBandLr2, loBandLr2, hiBandLr2, 2),
    ...bandSets(tBandLr3, loBandLr3, hiBandLr3, 3),
  ],
  {
    yTicks: jzTickValues,
    yLabels: jzTickLabels.map((s) => [[s]]),
    labelShift: 8,
    grid: jzTickValues,
    title: jzTitle,
    titleLength: 165,
    bottomAxis: true,
  });
</script>
</body>
</html>
